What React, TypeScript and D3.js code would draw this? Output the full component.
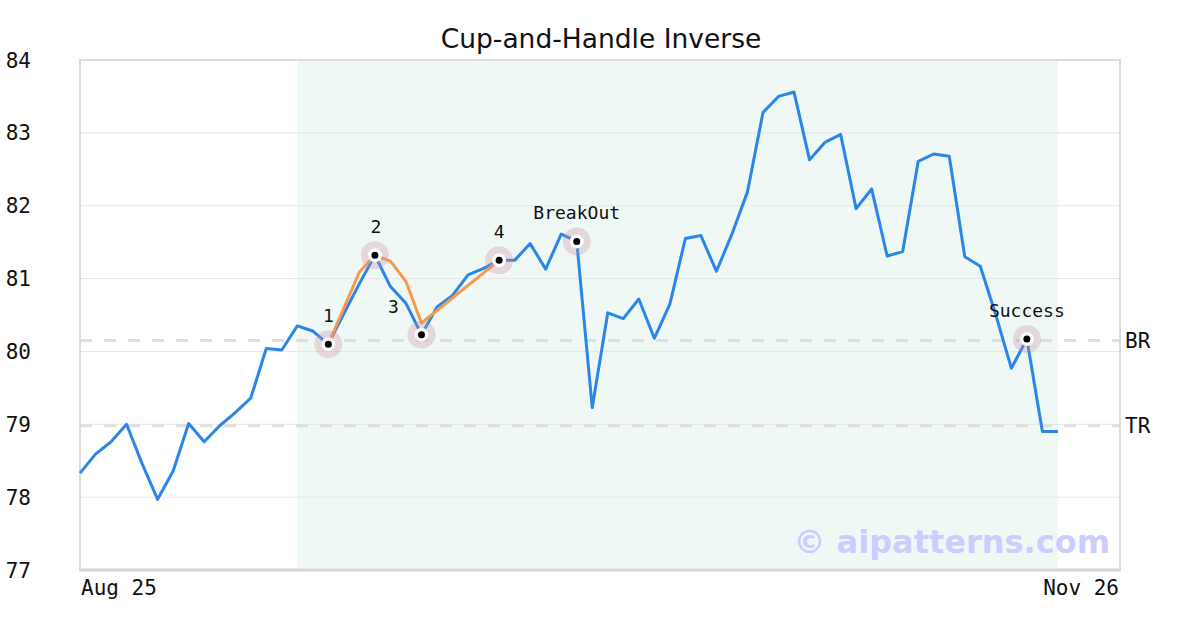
import React from "react";
import * as d3 from "d3";

const title = "Cup-and-Handle Inverse";
const prices = [
  78.33, 78.59, 78.76, 79.0, 78.46, 77.97, 78.36, 79.01, 78.76, 78.98,
  79.16, 79.36, 80.04, 80.02, 80.35, 80.28, 80.1, 80.52, 80.93, 81.32,
  80.89, 80.66, 80.23, 80.61, 80.77, 81.05, 81.14, 81.25, 81.25, 81.48,
  81.13, 81.61, 81.51, 79.23, 80.53, 80.45, 80.72, 80.18, 80.65, 81.55,
  81.59, 81.1, 81.61, 82.19, 83.28, 83.5, 83.56, 82.63, 82.87, 82.98,
  81.96, 82.23, 81.31, 81.37, 82.61, 82.71, 82.68, 81.3, 81.17, 80.5,
  79.77, 80.17, 78.9, 78.9,
];
const patternIdx = [16, 18, 19, 20, 21, 22, 27];
const patternVals = [80.1, 81.09, 81.32, 81.24, 80.96, 80.39, 81.25];
const markerIdx = [16, 19, 22, 27, 32, 61];
const markerLabels = ["1", "2", "3", "4", "BreakOut", "Success"];
const markerLabelDx = [0, 1, -28, 0, 0, 0];
const levelNames = ["BR", "TR"];
const levelVals = [80.15, 78.98];
const yTicks = [77, 78, 79, 80, 81, 82, 83, 84];
const xTickLabels = ["Aug 25", "Nov 26"];
const shadeRange = [14, 63];

export default function App() {
  const W = 1200, H = 630;
  const L = 80, R = 1120, T = 60, B = 570;
  const x = d3.scaleLinear().domain([0, 67]).range([L, R]);
  const y = d3.scaleLinear().domain([77, 84]).range([B, T]);
  const line = d3.line<number>().x((_, i) => x(i)).y((d) => y(d));
  const pLine = d3
    .line<number>()
    .x((_, i) => x(patternIdx[i]))
    .y((d) => y(d));
  const mono = "'DejaVu Sans Mono', monospace";
  return (
    <svg width={W} height={H} style={{ position: "absolute", left: 0, top: 0 }}>
      <rect x={0} y={0} width={W} height={H} fill="#fff" />
      <text x={601} y={48} textAnchor="middle" fontFamily="'DejaVu Sans', sans-serif" fontSize={26.5} fill="#111">
        {title}
      </text>
      <rect x={x(shadeRange[0])} y={T} width={x(shadeRange[1]) - x(shadeRange[0])} height={B - T} fill="#eff8f5" />
      {yTicks.map((t) => (
        <g key={t}>
          {t > 77 && t < 84 && (
            <line x1={L} x2={R} y1={y(t)} y2={y(t)} stroke="#e6e6e6" strokeWidth={1} />
          )}
          <text x={31} y={y(t)} dy="0.36em" textAnchor="end" fontFamily={mono} fontSize={21} fill="#111">
            {t}
          </text>
        </g>
      ))}
      {levelVals.map((v, i) => (
        <g key={levelNames[i]}>
          <line x1={L} x2={R} y1={y(v)} y2={y(v)} stroke="#dedede" strokeWidth={3} strokeDasharray="12,12" />
          <text x={1125} y={y(v)} dy="0.36em" fontFamily={mono} fontSize={21} fill="#111">
            {levelNames[i]}
          </text>
        </g>
      ))}
      <rect x={L} y={T} width={R - L} height={B - T} fill="none" stroke="#dcdcdc" strokeWidth={2} />
      <line x1={L} x2={R} y1={B} y2={B} stroke="#d6d6d6" strokeWidth={3} />
      <text x={81} y={595} fontFamily={mono} fontSize={21} fill="#111">{xTickLabels[0]}</text>
      <text x={1119} y={595} textAnchor="end" fontFamily={mono} fontSize={21} fill="#111">{xTickLabels[1]}</text>
      <text x={1110} y={553} textAnchor="end" fontFamily="'DejaVu Sans', sans-serif" fontWeight="bold" fontSize={32} fill="#ccccff">
        © aipatterns.com
      </text>
      <path d={line(prices) || ""} fill="none" stroke="#2a86e8" strokeWidth={3} strokeLinejoin="round" />
      <path d={pLine(patternVals) || ""} fill="none" stroke="#f7994a" strokeWidth={3} strokeLinejoin="round" />
      {markerIdx.map((idx, i) => (
        <g key={i}>
          <circle cx={x(idx)} cy={y(prices[idx])} r={14} fill="rgb(200,140,160)" fillOpacity={0.3} />
          <circle cx={x(idx)} cy={y(prices[idx])} r={7} fill="#fff" />
          <circle cx={x(idx)} cy={y(prices[idx])} r={3.5} fill="#000" />
          <text x={x(idx) + markerLabelDx[i]} y={y(prices[idx]) - 22} textAnchor="middle" fontFamily={mono} fontSize={18} fill="#111">
            {markerLabels[i]}
          </text>
        </g>
      ))}
    </svg>
  );
}
